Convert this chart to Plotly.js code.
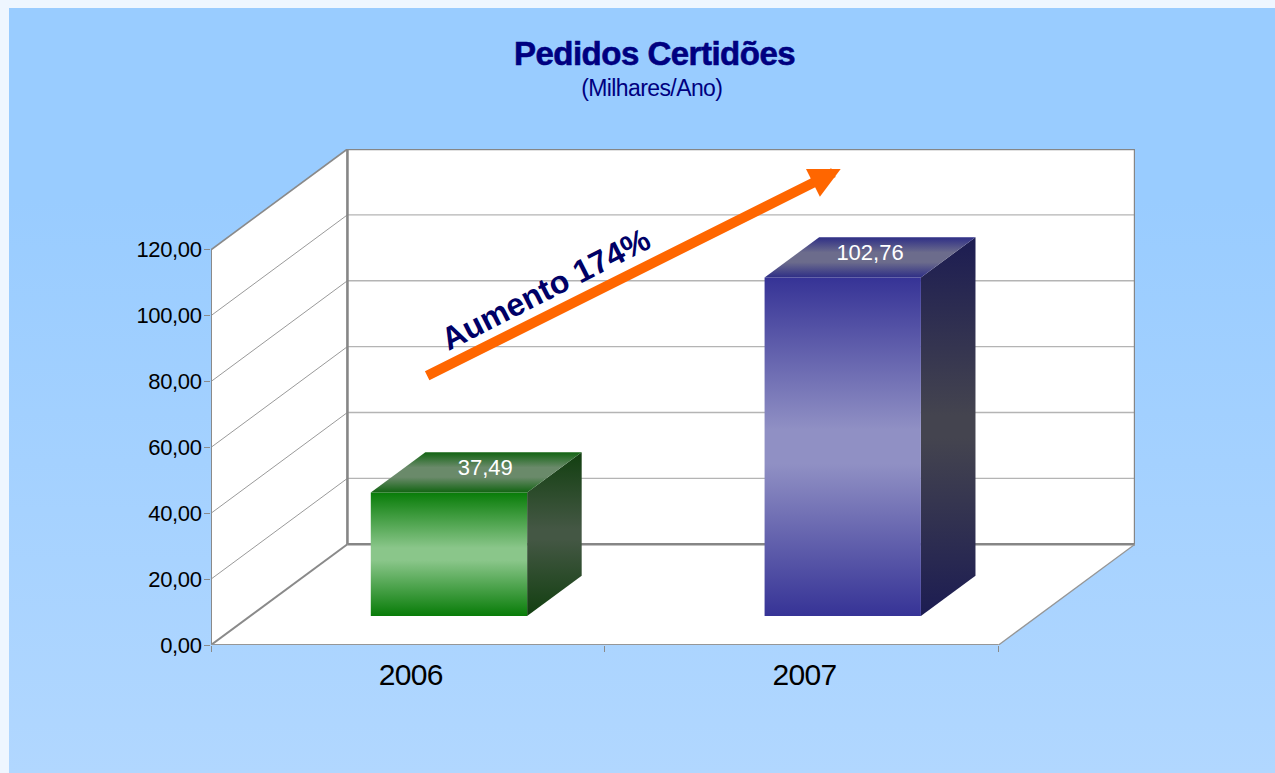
<!DOCTYPE html>
<html><head><meta charset="utf-8">
<script src="https://cdn.plot.ly/plotly-3.0.1.min.js"></script>
<style>
html,body{margin:0;padding:0;width:1275px;height:773px;overflow:hidden;background:#eef6ff}
#bg{position:absolute;left:9px;top:8px;width:1266px;height:765px;background:linear-gradient(#99ccff 0,#99ccff 25%,#b1d7ff 100%)}
#chart{position:absolute;left:0;top:0;width:1275px;height:773px}
.xtick text{letter-spacing:-0.7px}
.ytick text{letter-spacing:-0.35px}
.gtitle{stroke:#000080;stroke-width:0.6px;letter-spacing:-0.5px}
.annotation[data-index="0"] text{letter-spacing:-0.6px}
</style></head><body>
<div id="bg"></div><div id="chart"></div>
<script>
const categories=['2006','2007'];
const values=[37.49,102.76];
const yTicks=[0,20,40,60,80,100,120];
const categoryLabelPos=[0.507,1.507];
const categoryEdges=[0,1,2];
const labelShift=[0.023,0];
const titleText='Pedidos Certidões';
const subtitleText='(Milhares/Ano)';
const noteText='Aumento 174%';

const frontColors=['#087c08','#363396'];
const frontMid=['#8ac68a','#9090c4'];
const topDark=['#126412','#2e2e86'];
const topMid=['#6a8a6a','#6c6c8c'];
const sideDark=['#123f10','#1c1c52'];
const sideMid=['#445744','#44444f'];

const pxX=394;
const DX=136.5/pxX, DY=30.6;
const xMax=924.5/pxX, yMax=DY+120;
const barLeft=0.306, barWidth=0.397, depth0=0.288, depth1=0.688;
const P=(x,y,d)=>[x+d*DX,y+d*DY];
const traces=[];
function poly(pts,opt){
  const xs=pts.map(p=>p[0]).concat([pts[0][0]]);
  const ys=pts.map(p=>p[1]).concat([pts[0][1]]);
  traces.push(Object.assign({type:'scatter',mode:'lines',x:xs,y:ys,fill:'toself',cliponaxis:false,hoverinfo:'skip',line:{width:0}},opt));
}
function seg(a,b,color,w){
  traces.push({type:'scatter',mode:'lines',x:[a[0],b[0]],y:[a[1],b[1]],cliponaxis:false,hoverinfo:'skip',line:{color:color,width:w}});
}
function grad(dark,mid,flat){return {type:'vertical',colorscale:[[0,dark],[0.5-flat,mid],[0.5+flat,mid],[1,dark]]};}

// walls
const topY=120, endX=categoryEdges[2];
poly([P(0,0,0),P(0,0,1),P(0,topY,1),P(0,topY,0)],{fillcolor:'#fff'});
poly([P(0,0,1),P(endX,0,1),P(endX,topY,1),P(0,topY,1)],{fillcolor:'#fff'});
poly([P(0,0,0),P(endX,0,0),P(endX,0,1),P(0,0,1)],{fillcolor:'#fff'});
// gridlines
yTicks.slice(1,-1).forEach(t=>{
  seg(P(0,t,0),P(0,t,1),'#9a9a9a',1);
  seg(P(0,t,1),P(endX,t,1),'#b4b4b4',1.4);
});
// frame
seg(P(0,0,0),P(0,topY,0),'#8a8a8a',2);
seg(P(0,topY,0),P(0,topY,1),'#8a8a8a',1.7);
seg(P(0,0,0),P(0,0,1),'#8a8a8a',2);
seg(P(0,0,1),P(0,topY,1),'#868686',2.6);
seg(P(0,topY,1),P(endX,topY,1),'#868686',2.4);
seg(P(0,0,1),P(endX,0,1),'#868686',2.4);
seg(P(endX,0,1),P(endX,topY,1),'#868686',2.4);
seg(P(0,0,0),P(endX,0,0),'#969696',2);
seg(P(endX,0,0),P(endX,0,1),'#969696',1.3);

// bars
values.forEach((v,i)=>{
  const l=i+barLeft, r=l+barWidth;
  poly([P(r,0,depth0),P(r,0,depth1),P(r,v,depth1),P(r,v,depth0)],{fillcolor:sideDark[i],fillgradient:grad(sideDark[i],sideMid[i],0.03)});
  poly([P(l,0,depth0),P(r,0,depth0),P(r,v,depth0),P(l,v,depth0)],{fillcolor:frontColors[i],fillgradient:grad(frontColors[i],frontMid[i],0.05)});
  poly([P(l,v,depth0),P(r,v,depth0),P(r,v,depth1),P(l,v,depth1)],{fillcolor:topDark[i],fillgradient:grad(topDark[i],topMid[i],0.12)});
});
// value labels
traces.push({type:'scatter',mode:'text',cliponaxis:false,hoverinfo:'skip',
  x:values.map((v,i)=>P(i+barLeft+barWidth/2+labelShift[i],v,(depth0+depth1)/2)[0]),
  y:values.map((v,i)=>P(i+barLeft+barWidth/2,v,(depth0+depth1)/2+0.03)[1]),
  text:values.map(v=>v.toFixed(2).replace('.',',')),
  textposition:'middle center',textfont:{family:'Liberation Sans',size:22,color:'#ffffff'}});

const layout={
  width:1275,height:773,autosize:false,showlegend:false,hovermode:false,separators:',.',
  paper_bgcolor:'rgba(0,0,0,0)',plot_bgcolor:'rgba(0,0,0,0)',
  margin:{l:211,r:139.5,t:149,b:128,pad:0},
  title:{text:titleText,x:654.5/1275,xanchor:'center',xref:'container',y:1-53/773,yanchor:'middle',
    font:{family:'Liberation Sans',size:33,color:'#000080',weight:700}},
  xaxis:{range:[0,xMax],showgrid:false,zeroline:false,showline:false,tickmode:'array',
    tickvals:categoryLabelPos,ticktext:categories,ticks:'',ticklen:0,ticklabelstandoff:9,
    tickfont:{family:'Liberation Sans',size:30,color:'#000'},
    minor:{tickmode:'array',tickvals:categoryEdges,ticks:'outside',ticklen:6,tickwidth:1,tickcolor:'#8a8a8a',showgrid:false}},
  yaxis:{range:[0,yMax],showgrid:false,zeroline:false,showline:false,tickmode:'array',
    tickvals:yTicks,tickformat:'.2f',ticks:'outside',ticklen:6,tickwidth:1,tickcolor:'#8a8a8a',ticklabelstandoff:-2,
    tickfont:{family:'Liberation Sans',size:22,color:'#000'}},
  annotations:[
    {text:subtitleText,xref:'paper',yref:'paper',x:(652.5-211)/924.5,y:(645-88)/496,xanchor:'center',yanchor:'middle',showarrow:false,
     font:{family:'Liberation Sans',size:23,color:'#000080'}},
    {text:'',xref:'paper',yref:'paper',axref:'pixel',ayref:'pixel',x:(841-211)/924.5,y:(645-169)/496,ax:-415,ay:207.5,
     showarrow:true,arrowhead:2,arrowsize:0.62,arrowwidth:10,arrowcolor:'#ff6600',standoff:0},
    {text:'<b>'+noteText+'</b>',xref:'paper',yref:'paper',x:(546-211)/924.5,y:(645-289)/496,xanchor:'center',yanchor:'middle',showarrow:false,textangle:-27,
     font:{family:'Liberation Sans',size:32,color:'#000066'}}
  ]
};
Plotly.newPlot('chart',traces,layout,{displayModeBar:false,staticPlot:true});
</script></body></html>
